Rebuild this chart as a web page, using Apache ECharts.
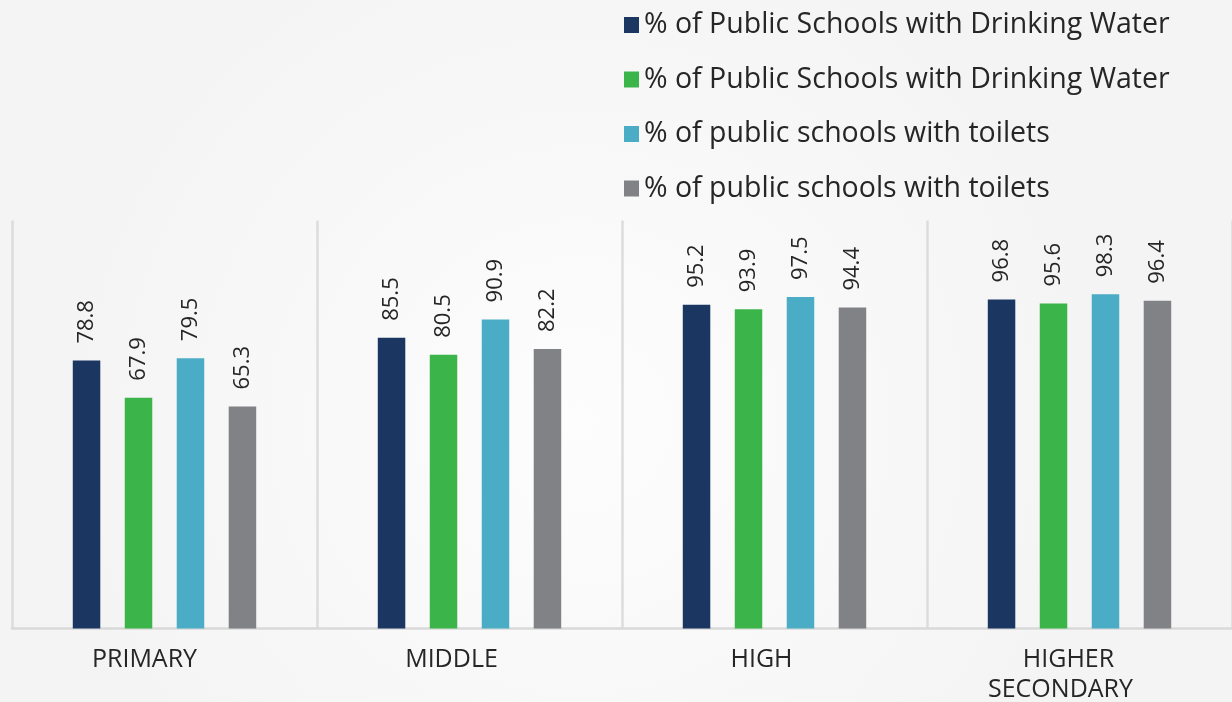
<!DOCTYPE html>
<html>
<head>
<meta charset="utf-8">
<script src="https://cdn.jsdelivr.net/npm/echarts@6/dist/echarts.min.js"></script>
<style>
  html, body { margin: 0; padding: 0; }
  #chart { width: 1232px; height: 702px; }
</style>
</head>
<body>
<div id="chart"></div>
<script>
// School levels along the x axis
const categories = ['PRIMARY', 'MIDDLE', 'HIGH', 'HIGHER\nSECONDARY'];

// Legend names, as printed
const seriesNames = [
  '% of Public Schools with Drinking Water',
  '% of Public Schools with Drinking Water ',
  '% of public schools with toilets',
  '% of public schools with toilets '
];
const legendLabels = [
  '% of Public Schools with Drinking Water',
  '% of Public Schools with Drinking Water',
  '% of public schools with toilets',
  '% of public schools with toilets'
];

// Percentages per level
const drinkingWaterA = [78.8, 85.5, 95.2, 96.8];
const drinkingWaterB = [67.9, 80.5, 93.9, 95.6];
const toiletsA = [79.5, 90.9, 97.5, 98.3];
const toiletsB = [65.3, 82.2, 94.4, 96.4];

const seriesValues = [drinkingWaterA, drinkingWaterB, toiletsA, toiletsB];
const colors = ['#1b3661', '#3bb54a', '#4bacc6', '#818286'];

const FONT = '"Open Sans", "Noto Sans", sans-serif';

// category label lines sit a little left of their band centre (right padding per line)
const labelShift = [[40], [36], [26], [22, 38]];

const chart = echarts.init(document.getElementById('chart'), null, { renderer: 'canvas' });

const series = seriesValues.map((vals, i) => ({
  name: seriesNames[i],
  type: 'bar',
  data: vals,
  barWidth: 27.5,
  barGap: '89%',
  itemStyle: { color: colors[i] },
  label: {
    show: true,
    position: 'top',
    rotate: 90,
    align: 'left',
    verticalAlign: 'middle',
    distance: 17,
    fontFamily: FONT,
    fontSize: 22,
    color: '#262626',
    formatter: p => p.value.toFixed(1)
  }
}));

const rich = {};
labelShift.forEach((lines, i) => {
  lines.forEach((s, j) => {
    rich['c' + i + '_' + j] = {
      fontFamily: FONT, fontSize: 25, color: '#262626',
      lineHeight: 30, padding: [0, s, 0, 0]
    };
  });
});

chart.setOption({
  backgroundColor: {
    type: 'radial', x: 0.47, y: 0.6, r: 0.75,
    colorStops: [
      { offset: 0, color: '#fdfdfd' },
      { offset: 1, color: '#f4f4f4' }
    ]
  },
  animation: false,
  legend: {
    orient: 'vertical',
    left: 619,
    top: 5.5,
    itemWidth: 15,
    itemHeight: 16,
    itemGap: 25.5,
    icon: 'rect',
    textStyle: { fontFamily: FONT, fontSize: 28.5, color: '#262626', padding: [0, 0, 0, 0] },
    formatter: name => legendLabels[seriesNames.indexOf(name)],
    data: seriesNames
  },
  grid: { left: 12, right: 0, top: 220.5, bottom: 73 },
  xAxis: {
    type: 'category',
    data: categories,
    axisLine: { show: true, lineStyle: { color: '#d9d9d9', width: 2.5 } },
    axisTick: { show: false },
    splitLine: { show: true, lineStyle: { color: '#dcdcdc', width: 2.5 } },
    axisLabel: {
      interval: 0,
      margin: 16,
      formatter: (value, idx) =>
        value.split('\n').map((line, j) => '{c' + idx + '_' + j + '|' + line + '}').join('\n'),
      rich
    }
  },
  yAxis: {
    type: 'value', min: 0, max: 120, interval: 20,
    show: false,
    splitLine: { show: false }
  },
  series
});
</script>
</body>
</html>
